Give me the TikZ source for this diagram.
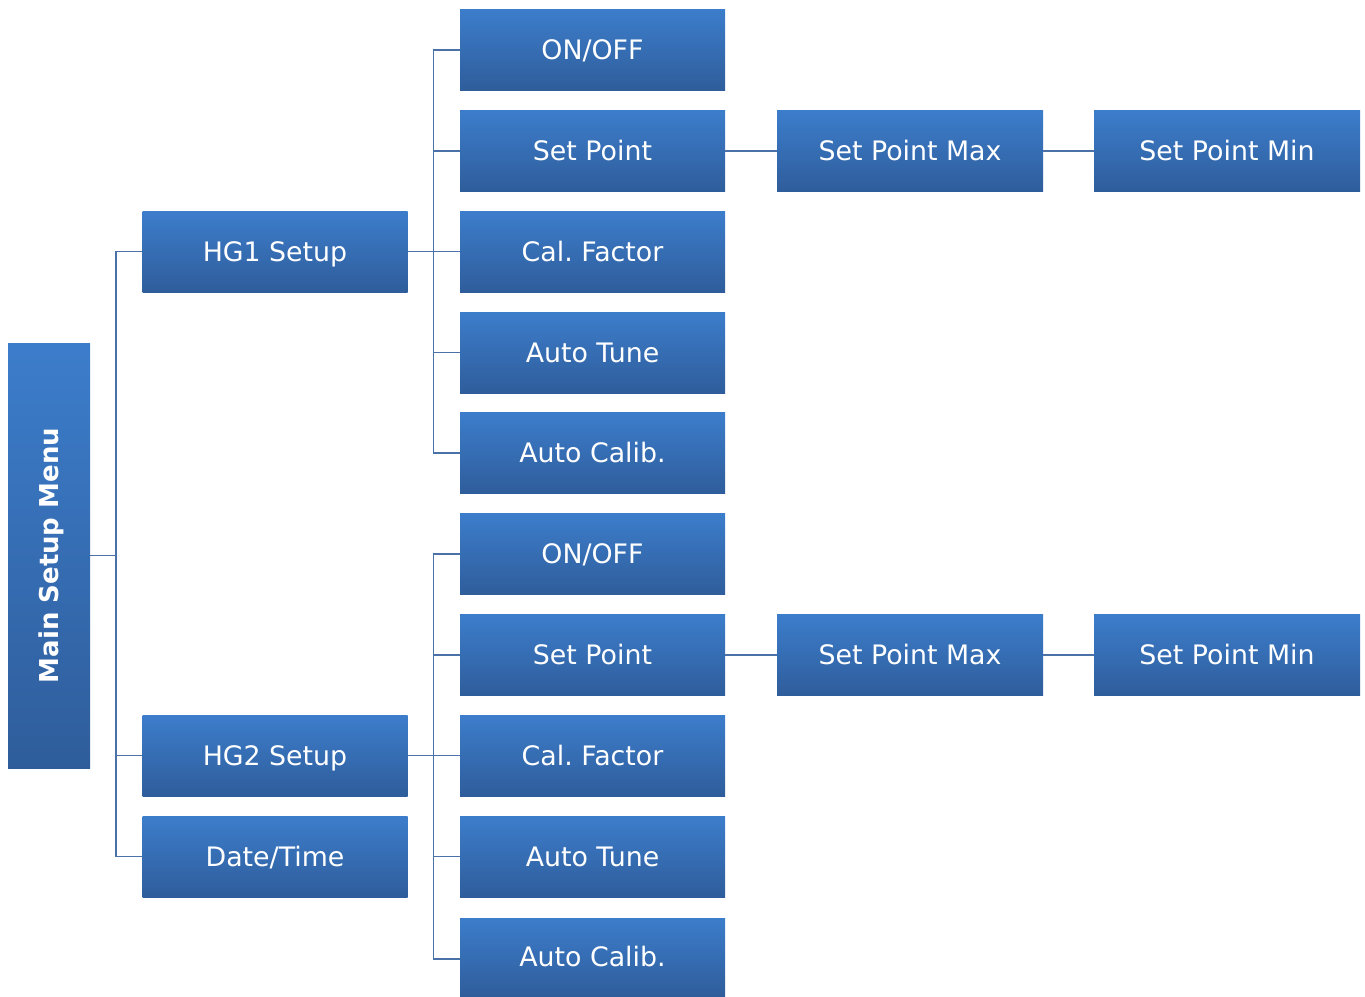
\documentclass[tikz,border=0pt]{standalone}
\usepackage{fontspec}
\setmainfont{DejaVu Sans}
\frenchspacing
\definecolor{boxtop}{HTML}{3C7DCB}
\definecolor{boxbot}{HTML}{2F5D9B}
\definecolor{linec}{HTML}{4A72A8}
\begin{document}
\begin{tikzpicture}[x=1pt,y=-1pt,
  box/.style={rectangle, inner sep=0pt, top color=boxtop, bottom color=boxbot, draw=none,
    text=white, font=\fontsize{26.8}{30}\selectfont, text height=19.6pt, text depth=0pt,
    minimum width=265pt, minimum height=81pt},
  conn/.style={draw=linec, line width=1.8pt}]
\useasboundingbox (0,0) rectangle (1365,996);
% main
\node[box, minimum width=82pt, minimum height=425pt] (main) at (49,555.5) {};
\node[rotate=90, text=white, font=\fontsize{26}{30}\selectfont\bfseries, text height=19pt, text depth=0pt] (maintxt) at (49,555.5) {Main Setup Menu};
% level 2
\node[box] (hg1) at (275,251.5) {HG1 Setup};
\node[box] (hg2) at (275,755.5) {HG2 Setup};
\node[box] (dt) at (275,856.5) {Date/Time};
% level 3, HG1
\node[box] (on1) at (592.5,50) {ON/OFF};
\node[box] (sp1) at (592.5,151) {Set Point};
\node[box] (cf1) at (592.5,251.5) {Cal. Factor};
\node[box] (at1) at (592.5,352.5) {Auto Tune};
\node[box] (ac1) at (592.5,453) {Auto Calib.};
% level 3, HG2
\node[box] (on2) at (592.5,554) {ON/OFF};
\node[box] (sp2) at (592.5,655) {Set Point};
\node[box] (cf2) at (592.5,755.5) {Cal. Factor};
\node[box] (at2) at (592.5,856.5) {Auto Tune};
\node[box, minimum height=78pt] (ac2) at (592.5,957) {Auto Calib.};
% level 4/5
\node[box, minimum width=266pt] (spx1) at (910,151) {Set Point Max};
\node[box, minimum width=266pt] (spn1) at (1227,151) {Set Point Min};
\node[box, minimum width=266pt] (spx2) at (910,655) {Set Point Max};
\node[box, minimum width=266pt] (spn2) at (1227,655) {Set Point Min};
% junctions
\coordinate (j0) at (116,555.5);
\coordinate (j1) at (433.5,251.5);
\coordinate (j2) at (433.5,755.5);
% connectors
\draw[conn] (main.east) -- (j0);
\draw[conn] (j0) |- (hg1.west);
\draw[conn] (j0) |- (hg2.west);
\draw[conn] (j0) |- (dt.west);
\draw[conn] (hg1.east) -- (j1);
\foreach \n in {on1,sp1,cf1,at1,ac1} \draw[conn] (j1) |- (\n.west);
\draw[conn] (hg2.east) -- (j2);
\foreach \n in {on2,sp2,cf2,at2} \draw[conn] (j2) |- (\n.west);
\draw[conn] (j2) |- (ac2.west |- 0,959);
\draw[conn] (sp1.east) -- (spx1.west);
\draw[conn] (spx1.east) -- (spn1.west);
\draw[conn] (sp2.east) -- (spx2.west);
\draw[conn] (spx2.east) -- (spn2.west);
\end{tikzpicture}
\end{document}
